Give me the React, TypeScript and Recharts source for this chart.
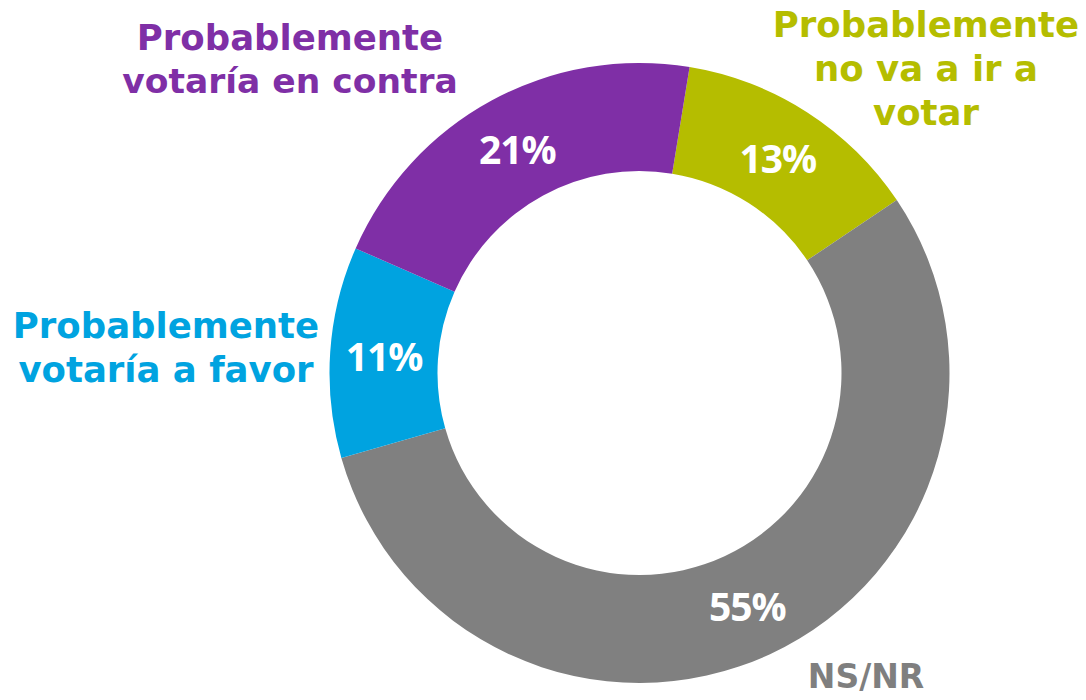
import React from "react";
import { PieChart, Pie, Cell } from "recharts";

const categories = [
  "Probablemente no va a ir a votar",
  "NS/NR",
  "Probablemente votaría a favor",
  "Probablemente votaría en contra",
];
const values = [13, 55, 11, 21];
const colors = ["#B5BD00", "#808080", "#00A3E0", "#7F2FA6"];

const data = categories.map((name, i) => ({ name, value: values[i] }));

const RAD = Math.PI / 180;

const renderPct = (props: any) => {
  const { cx, cy, midAngle, innerRadius, outerRadius, value } = props;
  const r = (innerRadius + outerRadius) / 2;
  const x = cx + r * Math.cos(-midAngle * RAD);
  const y = cy + r * Math.sin(-midAngle * RAD);
  return (
    <text
      x={x}
      y={y}
      fill="#ffffff"
      textAnchor="middle"
      dominantBaseline="central"
      fontFamily="'Open Sans', sans-serif"
      fontWeight={700}
      fontSize={39}
      letterSpacing={-1}
    >
      {`${value}%`}
    </text>
  );
};

const labelFont = "'DejaVu Sans', sans-serif";

export default function App() {
  return (
    <div style={{ position: "absolute", left: 0, top: 0, width: 1086, height: 700, background: "#ffffff" }}>
      <PieChart width={1086} height={700} margin={{ top: 0, right: 0, bottom: 0, left: 0 }}>
        <Pie
          data={data}
          dataKey="value"
          nameKey="name"
          cx={639.5}
          cy={373}
          innerRadius={202}
          outerRadius={310}
          startAngle={80.7}
          endAngle={-279.3}
          stroke="none"
          label={renderPct}
          labelLine={false}
          isAnimationActive={false}
        >
          {data.map((d, i) => (
            <Cell key={d.name} fill={colors[i]} />
          ))}
        </Pie>
      </PieChart>
      <svg
        width={1086}
        height={700}
        style={{ position: "absolute", left: 0, top: 0, pointerEvents: "none" }}
      >
        <g fontFamily={labelFont} fontWeight={700} fontSize={35.5} textAnchor="middle">
          <text fill={colors[3]}>
            <tspan x={290} y={50}>Probablemente</tspan>
            <tspan x={290} y={93} fontSize={34.5}>votaría en contra</tspan>
          </text>
          <text fill={colors[0]}>
            <tspan x={926} y={37}>Probablemente</tspan>
            <tspan x={926} y={81}>no va a ir a</tspan>
            <tspan x={926} y={125}>votar</tspan>
          </text>
          <text fill={colors[2]}>
            <tspan x={166} y={338}>Probablemente</tspan>
            <tspan x={166} y={382}>votaría a favor</tspan>
          </text>
          <text x={866} y={688} fill="#7F7F7F" fontSize={33}>
            NS/NR
          </text>
        </g>
      </svg>
    </div>
  );
}
